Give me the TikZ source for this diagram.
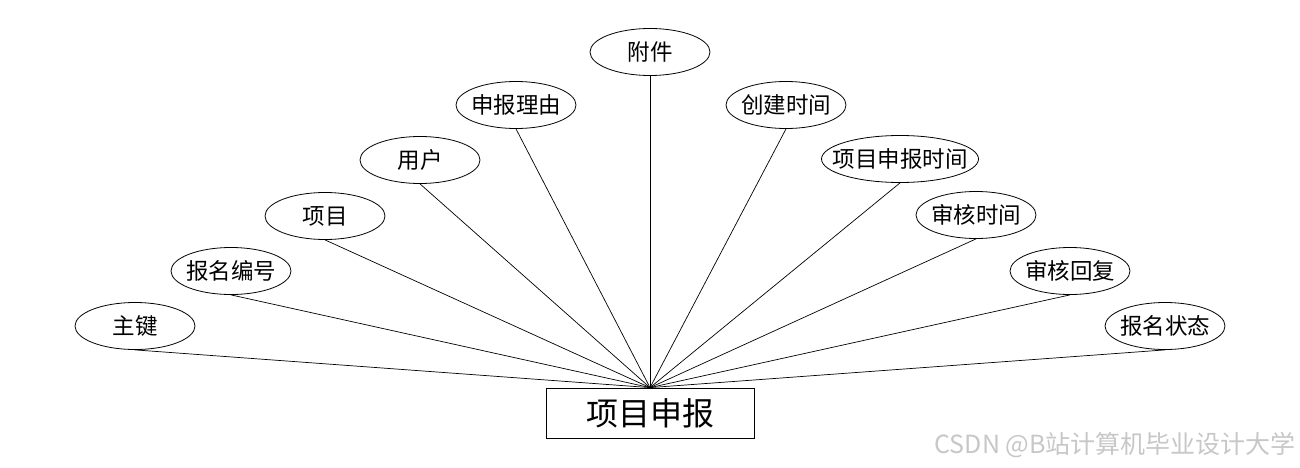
\documentclass[tikz,border=0pt]{standalone}
\usepackage{fontspec}
\setmainfont{Noto Sans CJK SC}
\newfontfamily\cjk{Noto Sans CJK SC}
\usetikzlibrary{shapes.geometric}
\tikzset{
  attr/.style={ellipse, draw, line width=0.8pt, minimum width=120pt, minimum height=47pt, inner sep=0pt},
  lbl/.style={inner sep=0pt, font=\cjk\fontsize{22.5}{24}\selectfont},
  entity/.style={rectangle, draw, line width=0.8pt, minimum width=208pt, minimum height=50pt, inner sep=0pt, font=\cjk\fontsize{32}{34}\selectfont},
  link/.style={line width=0.7pt},
  wm/.style={font=\cjk\fontsize{25}{27}\selectfont, text=black!22, inner sep=0pt, anchor=east}
}
\begin{document}
\begin{tikzpicture}[x=1pt,y=-1pt]
\useasboundingbox (0,0) rectangle (1300,468);
\node[entity] (c) at (650,413) {项目申报};
\foreach \n/\x/\y/\w/\t in {
  1/135/326/120/主键,
  2/231/271/120/报名编号,
  3/325/216/120/项目,
  4/420/160/120/用户,
  5/516/105/120/申报理由,
  6/650/52/120/附件,
  7/786/105/120/创建时间,
  8/900/159/157/项目申报时间,
  9/976/215/120/审核时间,
  10/1070/271/120/审核回复,
  11/1165/326/120/报名状态} {
  \node[attr, minimum width=\w pt] (a\n) at (\x,\y) {};
  \node[lbl] (t\n) at (a\n.center) {\t};
  \draw[link] (a\n.south) -- (c.north);
}
\node[wm] (w) at (1296,445) {CSDN @B站计算机毕业设计大学};
\end{tikzpicture}
\end{document}
